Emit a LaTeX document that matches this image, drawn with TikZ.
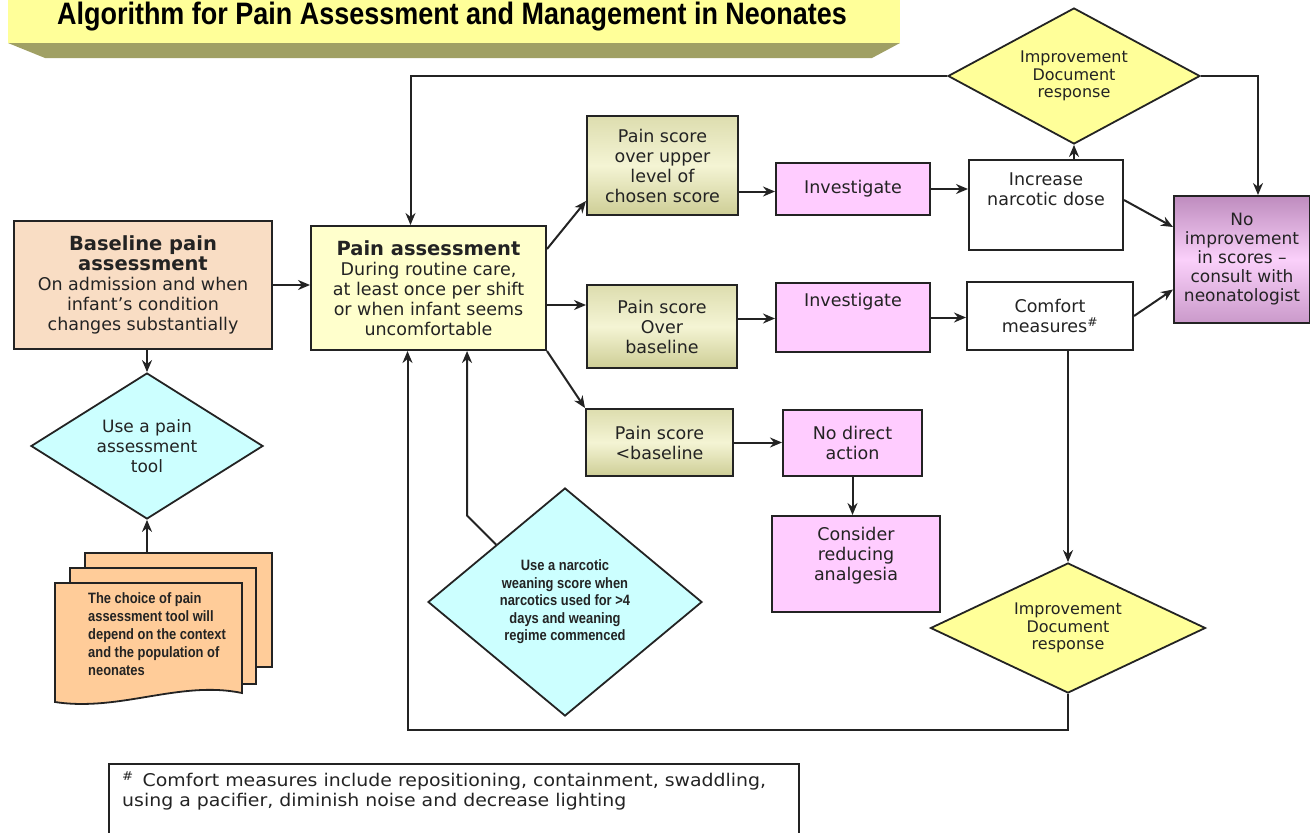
\documentclass[tikz,border=0pt]{standalone}
\usepackage{fontspec}
\setmainfont{DejaVu Sans}
\newfontfamily\narrowfont[FakeStretch=0.86]{Liberation Sans}
\newfontfamily\titlefont[FakeStretch=0.87]{Liberation Sans}
\newfontfamily\widefont[FakeStretch=1.08]{DejaVu Sans}
\usetikzlibrary{shapes.geometric,arrows.meta}
\definecolor{peach}{RGB}{249,221,196}
\definecolor{paleyel}{RGB}{255,255,204}
\definecolor{oliveL}{RGB}{244,244,212}
\definecolor{oliveD}{RGB}{206,206,150}
\definecolor{pinkish}{RGB}{255,204,255}
\definecolor{cyanish}{RGB}{204,255,255}
\definecolor{yeldia}{RGB}{255,255,153}
\definecolor{docor}{RGB}{255,204,153}
\definecolor{bannerL}{RGB}{255,255,153}
\definecolor{bannerD}{RGB}{160,160,100}
\definecolor{purpD}{RGB}{190,140,190}
\definecolor{purpL}{RGB}{250,208,250}
\definecolor{ink}{RGB}{35,35,35}
\tikzset{
box/.style={draw=ink,line width=2pt,align=center,inner sep=0pt,text=ink,font=\fontsize{17.5}{20}\selectfont},
psbox/.style={box,top color=oliveD!60!oliveL,bottom color=oliveD,middle color=oliveL},
pinkbox/.style={box,fill=pinkish},
whitebox/.style={box,fill=white},
decision/.style={box,diamond,line width=1.8pt,font=\fontsize{16}{17.5}\selectfont},
txt/.style={align=center,inner sep=0pt,text=ink,font=\fontsize{17.5}{20}\selectfont},
docpage/.style={draw=ink,line width=1.8pt,fill=docor},
arr/.style={-{Stealth[length=12pt,width=10pt]},line width=2pt,draw=ink}
}
\begin{document}
\begin{tikzpicture}[x=1pt,y=-1pt]
\useasboundingbox(0,0)rectangle(1310,833);
% title banner
\fill[bannerD](8,43)--(900,43)--(872,58)--(45,58)--cycle;
\fill[bannerL](8,-5)rectangle(900,43);
\node[anchor=base,inner sep=0pt,text=black,font=\titlefont\bfseries\fontsize{31}{32}\selectfont](title)at(452,24){Algorithm for Pain Assessment and Management in Neonates};
% left column
\node[box,fill=peach,minimum width=258,minimum height=128](base)at(143,285)
{{\bfseries\fontsize{19.5}{22}\selectfont Baseline pain}\\{\bfseries\fontsize{19.5}{22}\selectfont assessment}\\On admission and when\\infant’s condition\\changes substantially};
\node[decision,fill=cyanish,minimum width=232,minimum height=146,aspect=1.6,font=\fontsize{17}{20}\selectfont](tool)at(147,446){Use a pain\\assessment\\tool};
\filldraw[docpage](85,553)--(272,553)--(272,667)--(85,667)--cycle;
\filldraw[docpage](70,568)--(256,568)--(256,684)--(70,684)--cycle;
\filldraw[docpage](55,583)--(242,583)--(242,693)..controls(180,680)and(120,712)..(55,702)--cycle;
\coordinate(doctop)at(147,553);
\node[txt,anchor=north west,align=left,font=\narrowfont\bfseries\fontsize{15}{18}\selectfont](doctxt)at(88,592)
{The choice of pain\\assessment tool will\\depend on the context\\and the population of\\neonates};
% pain assessment
\node[box,fill=paleyel,minimum width=235,minimum height=124](pa)at(428.5,288)
{{\bfseries\fontsize{19.5}{22}\selectfont Pain assessment}\\During routine care,\\at least once per shift\\or when infant seems\\uncomfortable};
\node[decision,fill=cyanish,minimum width=274,minimum height=228,aspect=1.2,font=\narrowfont\bfseries\fontsize{15}{17.5}\selectfont](narc)at(565,602)
{Use a narcotic\\weaning score when\\narcotics used for >4\\days and weaning\\regime commenced};
% pain scores
\node[psbox,minimum width=151,minimum height=99](ps1)at(662.5,165.5){Pain score\\over upper\\level of\\chosen score};
\node[psbox,minimum width=150,minimum height=83](ps2)at(662,326.5){Pain score\\Over\\baseline};
\node[psbox,minimum width=147,minimum height=67](ps3)at(659.5,442.5){Pain score\\<baseline};
% actions
\node[pinkbox,minimum width=154,minimum height=52](inv1)at(853,189){Investigate};
\node[pinkbox,minimum width=154,minimum height=69](inv2)at(853,317.5){};
\node[txt](inv2t)at(853,302){Investigate};
\node[pinkbox,minimum width=139,minimum height=66](nda)at(852.5,443){No direct\\action};
\node[pinkbox,minimum width=168,minimum height=96](cons)at(856,564){};
\node[txt](const)at(856,556){Consider\\reducing\\analgesia};
\node[whitebox,minimum width=154,minimum height=90](inc)at(1046,205){};
\node[txt](inct)at(1046,189){Increase\\narcotic dose};
\node[whitebox,minimum width=166,minimum height=68](com)at(1050,316){Comfort\\measures\textsuperscript{\#}};
\node[box,top color=purpD,bottom color=purpD!80!purpL,middle color=purpL,minimum width=136,minimum height=127,font=\fontsize{17}{19}\selectfont](noimp)at(1242,259.5)
{No\\improvement\\in scores –\\consult with\\neonatologist};
\node[decision,fill=yeldia,minimum width=252,minimum height=136,aspect=2](topd)at(1074,76){Improvement\\Document\\response};
\node[decision,fill=yeldia,minimum width=275,minimum height=130,aspect=2.1](botd)at(1068,628){Improvement\\Document\\response};
% footnote
\node[box,minimum width=690,minimum height=80,anchor=north west](fn)at(108,763){};
\node[txt,anchor=north west,align=left,font=\widefont\fontsize{17.5}{20}\selectfont](fnt)at(122,771)
{\textsuperscript{\#}\, Comfort measures include repositioning, containment, swaddling,\\using a pacifier, diminish noise and decrease lighting};
% connectors
\draw[arr](base.east)--(base.east-|pa.west);
\draw[arr](tool.north|-base.south)--(tool.north);
\draw[arr](doctop)--(tool.south);
\draw[arr]([yshift=-24pt]pa.north east)--([yshift=15pt]ps1.south west);
\draw[arr]([yshift=-17pt]pa.east)--([yshift=-17pt]pa.east-|ps2.west);
\draw[arr](pa.south east)--(ps3.north west);
\draw[arr]([yshift=-26pt]ps1.east)--([yshift=-26pt]ps1.east-|inv1.west);
\draw[arr]([yshift=8pt]ps2.east)--([yshift=8pt]ps2.east-|inv2.west);
\draw[arr](ps3.east)--(ps3.east-|nda.west);
\draw[arr](inv1.east)--(inv1.east-|inc.west);
\draw[arr](inv2.east)--(inv2.east-|com.west);
\draw[arr](nda.south)--(nda.south|-cons.north);
\draw[arr](topd.south|-inc.north)--(topd.south);
\draw[arr]([yshift=5pt]inc.east)--([yshift=-32pt]noimp.north west);
\draw[arr](com.east)--([yshift=-30pt]noimp.west);
\draw[arr](topd.east)-|([xshift=16pt]noimp.north);
\draw[arr](topd.west)-|([xshift=-18pt]pa.north);
\draw[arr](botd.north|-com.south)--(botd.north);
\draw[arr](botd.south)--++(0,36)-|([xshift=-21pt]pa.south);
\draw[arr](narc.north west)--++(-29,-29)coordinate(nk)--(nk|-pa.south);
\end{tikzpicture}
\end{document}
